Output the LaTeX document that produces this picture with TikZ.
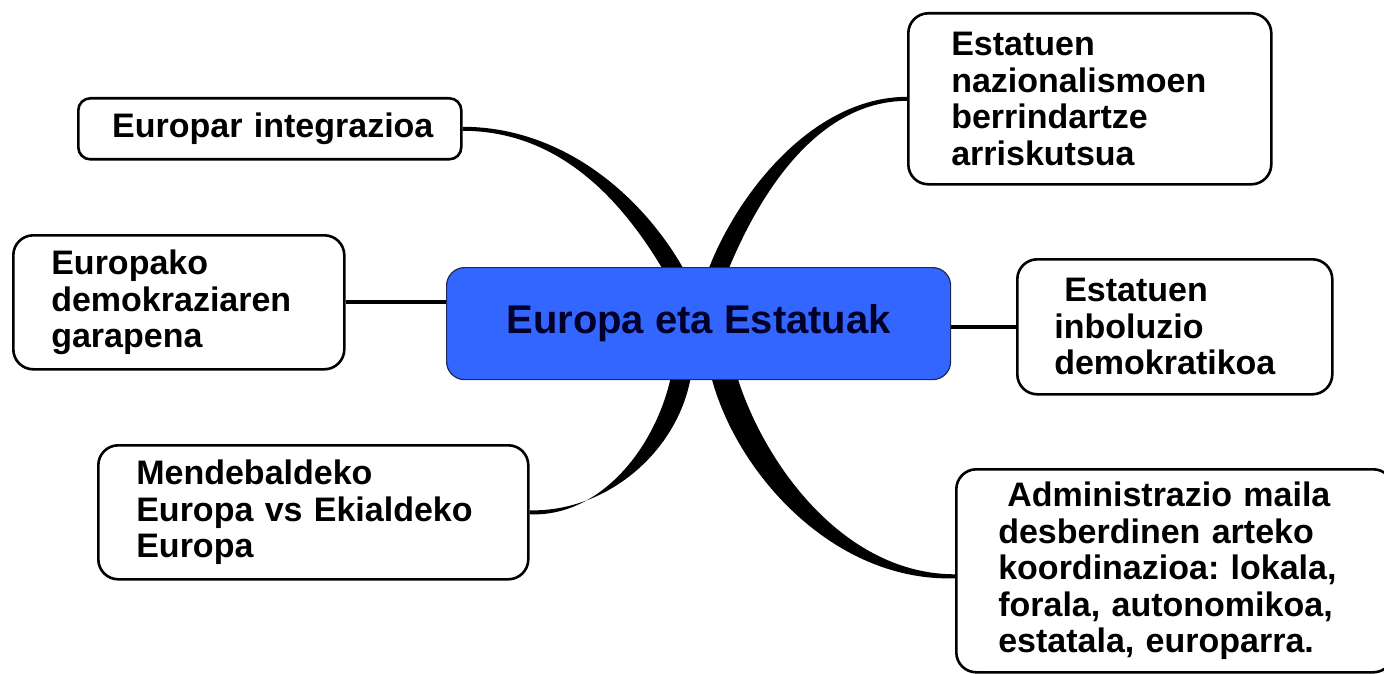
\documentclass[tikz,border=0pt]{standalone}
\usepackage{fontspec}
\setmainfont{Liberation Sans}
\usetikzlibrary{backgrounds,calc}
\definecolor{hubblue}{RGB}{51,102,255}
\definecolor{hubtext}{RGB}{0,0,40}
\definecolor{hubline}{RGB}{30,40,90}
\frenchspacing
\begin{document}
\begin{tikzpicture}[x=1pt,y=-1pt,
  leaf/.style={draw=black, line width=2.6pt, fill=white, rounded corners=20pt,
    align=left, font=\fontsize{34}{36.5}\selectfont\bfseries\frenchspacing, anchor=north west, inner ysep=0pt},
  hub/.style={draw=hubline, line width=1.2pt, fill=hubblue, rounded corners=18pt,
    font=\fontsize{40}{48}\selectfont\bfseries, text=hubtext, anchor=north west, inner sep=0pt},
  link/.style={line width=4pt, black},
  branch/.style={fill=black}]
\useasboundingbox (0,0) rectangle (1384,674);

\node[hub, minimum width=504pt, minimum height=112pt] (hub) at (446,267) {Europa eta Estatuak};

\node[leaf, rounded corners=12pt, align=center, text width=343pt, inner xsep=20pt, minimum height=61pt] (integ) at (77,97) {\hspace*{6pt}Europar integrazioa};
\node[leaf, text width=255pt, inner xsep=38pt, minimum height=134pt] (demo) at (12,234) {Europako\\demokraziaren\\garapena};
\node[leaf, text width=354pt, inner xsep=38pt, minimum height=134pt] (mende) at (97,444) {Mendebaldeko\\Europa vs Ekialdeko\\Europa};
\node[leaf, text width=277pt, inner xsep=43pt, minimum height=171pt] (nazio) at (907,12) {Estatuen\\nazionalismoen\\berrindartze\\arriskutsua};
\node[leaf, text width=241pt, inner xsep=37pt, minimum height=135pt] (inbol) at (1016,258) {\hspace*{10pt}Estatuen\\inboluzio\\demokratikoa};
\node[leaf, text width=353pt, inner xsep=42pt, minimum height=203pt] (admin) at (955,468) {\hspace*{9pt}Administrazio maila\\desberdinen arteko\\koordinazioa: lokala,\\forala, autonomikoa,\\estatala, europarra.};

\begin{scope}[on background layer]
  % top-left tapered branch
  \fill[branch] ($(integ.east)+(0,-2)$) .. controls ($(integ.east)+(102,-2)$) and ($(hub.north)+(-55,-69)$) .. ($(hub.north)+(-15,2)$)
     -- ($(hub.north)+(-36,2)$) .. controls ($(hub.north)+(-76,-65)$) and ($(integ.east)+(98,2)$) .. ($(integ.east)+(0,2)$) -- cycle;
  % top-right tapered branch
  \fill[branch] ($(hub.north)+(10,2)$) .. controls ($(hub.north)+(37,-69)$) and ($(nazio.west)+(-97,-1.5)$) .. ($(nazio.west)+(0,-2)$)
     -- ($(nazio.west)+(0,2)$) .. controls ($(nazio.west)+(-95,2.5)$) and ($(hub.north)+(57,-63)$) .. ($(hub.north)+(30,2)$) -- cycle;
  % bottom-left tapered branch
  \fill[branch] ($(hub.south)+(-8,-2)$) .. controls ($(hub.south)+(-22,73)$) and ($(mende.east)+(76,0)$) .. ($(mende.east)+(0,-2)$)
     -- ($(mende.east)+(0,2)$) .. controls ($(mende.east)+(70,5)$) and ($(hub.south)+(-44,69)$) .. ($(hub.south)+(-28,-2)$) -- cycle;
  % bottom-right tapered branch
  \fill[branch] ($(hub.south)+(39,-2)$) .. controls ($(hub.south)+(67,86)$) and ($(admin.west)+(-110,3.5)$) .. ($(admin.west)+(0,3.5)$)
     -- ($(admin.west)+(0,7.5)$) .. controls ($(admin.west)+(-120,11.5)$) and ($(hub.south)+(39,95)$) .. ($(hub.south)+(13,-2)$) -- cycle;
  % straight links
  \draw[link] (demo.east) -- (demo.east -| hub.west);
  \draw[link] (hub.east |- inbol.west) -- (inbol.west);
\end{scope}
\end{tikzpicture}
\end{document}
